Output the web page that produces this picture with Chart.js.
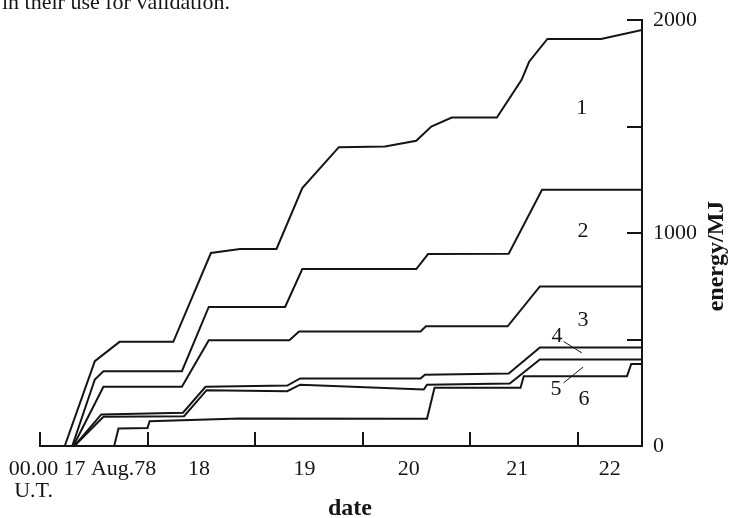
<!DOCTYPE html>
<html>
<head>
<meta charset="utf-8">
<script src="https://cdn.jsdelivr.net/npm/chart.js@4.4.1/dist/chart.umd.min.js"></script>
<style>
  html, body { margin: 0; padding: 0; background: #fff; }
  .chart-container { position: relative; width: 730px; height: 518px; }
</style>
</head>
<body>
<div class="chart-container"><canvas id="chart"></canvas></div>
<script>
// x = days after 00.00 UT 17 Aug 1978, y = cumulative energy in MJ
const days1 = [0.23, 0.51, 0.74, 1.24, 1.59, 1.86, 2.20, 2.44, 2.78, 3.21, 3.50, 3.64, 3.83, 4.25, 4.48, 4.55, 4.72, 5.22, 5.60]
const energy1 = [0, 398, 489, 489, 906, 925, 925, 1211, 1403, 1406, 1433, 1500, 1542, 1542, 1719, 1804, 1911, 1911, 1953]

const days2 = [0.30, 0.51, 0.59, 1.32, 1.57, 2.28, 2.44, 3.50, 3.61, 4.36, 4.67, 5.60]
const energy2 = [0, 312, 351, 351, 653, 653, 831, 831, 901, 903, 1203, 1203]

const days3 = [0.31, 0.59, 1.32, 1.57, 2.32, 2.41, 3.54, 3.59, 4.35, 4.65, 5.60]
const energy3 = [0, 278, 278, 496, 496, 538, 538, 562, 562, 749, 749]

const days4 = [0.32, 0.57, 1.33, 1.54, 2.30, 2.42, 3.54, 3.58, 4.36, 4.65, 5.60]
const energy4 = [0, 148, 156, 278, 284, 317, 317, 335, 340, 463, 463]

const days5 = [0.32, 0.59, 1.34, 1.55, 2.30, 2.42, 3.57, 3.60, 4.37, 4.65, 5.60]
const energy5 = [0, 137, 140, 262, 257, 288, 265, 288, 293, 406, 406]

const days6 = [0.69, 0.73, 1.00, 1.02, 1.86, 3.60, 3.67, 4.47, 4.50, 5.46, 5.50, 5.60]
const energy6 = [0, 82, 85, 116, 129, 128, 273, 273, 327, 327, 385, 385]

// axis ticks and labels
const xTickDays = [0, 1, 2, 3, 4, 5]
const xLabelDays = [-0.06, 0.65, 1.48, 2.46, 3.43, 4.44, 5.30]
const xTickLabels = [['00.00', 'U.T.'], '17 Aug.78', '18', '19', '20', '21', '22']
const yTickEnergy = [500, 1000, 1500, 2000]
const yLabelEnergy = [0, 1000, 2000]

// curve numbers, placed in data units
const seriesTags = [
  { text: '1', d: 5.04, v: 1586 },
  { text: '2', d: 5.05, v: 1007 },
  { text: '3', d: 5.05, v: 590 },
  { text: '4', d: 4.81, v: 515, lead: [4.87, 491, 5.04, 437] },
  { text: '5', d: 4.80, v: 265, lead: [4.87, 296, 5.05, 370] },
  { text: '6', d: 5.06, v: 218 },
]

const INK = '#151515'
const FONT = '"Liberation Serif", "DejaVu Serif", serif'

const toPoints = (xs, ys) => xs.map((d, i) => ({ x: d, y: ys[i] }))
const series = [
  [days1, energy1], [days2, energy2], [days3, energy3],
  [days4, energy4], [days5, energy5], [days6, energy6],
]

const decorations = {
  id: 'decorations',
  afterDraw(chart) {
    const { ctx } = chart
    const { x, y } = chart.scales
    ctx.save()

    // tick marks point into the plot
    ctx.strokeStyle = INK
    ctx.lineWidth = 2
    ctx.beginPath()
    xTickDays.forEach((d) => {
      const px = Math.round(x.getPixelForValue(d))
      ctx.moveTo(px, y.bottom)
      ctx.lineTo(px, y.bottom - 14)
    })
    yTickEnergy.forEach((v) => {
      const py = Math.round(y.getPixelForValue(v))
      ctx.moveTo(x.right, py)
      ctx.lineTo(x.right - 15, py)
    })
    ctx.stroke()

    // curve numbers
    ctx.fillStyle = INK
    ctx.font = '22px ' + FONT
    ctx.textAlign = 'center'
    ctx.textBaseline = 'middle'
    ctx.lineWidth = 1
    seriesTags.forEach((t) => {
      ctx.fillText(t.text, x.getPixelForValue(t.d), y.getPixelForValue(t.v))
      if (t.lead) {
        ctx.beginPath()
        ctx.moveTo(x.getPixelForValue(t.lead[0]), y.getPixelForValue(t.lead[1]))
        ctx.lineTo(x.getPixelForValue(t.lead[2]), y.getPixelForValue(t.lead[3]))
        ctx.stroke()
      }
    })

    // axis titles
    ctx.font = 'bold 24px ' + FONT
    ctx.fillText('date', 350, 509)
    ctx.save()
    ctx.translate(717, 256)
    ctx.rotate(-Math.PI / 2)
    ctx.fillText('energy/MJ', 0, 0)
    ctx.restore()

    // last line of the page text above the figure
    ctx.font = '22px ' + FONT
    ctx.textAlign = 'left'
    ctx.textBaseline = 'alphabetic'
    ctx.fillText('in their use for validation.', 2, 9)

    ctx.restore()
  },
}

new Chart(document.getElementById('chart'), {
  type: 'line',
  data: {
    datasets: series.map(([xs, ys], i) => ({
      label: String(i + 1),
      data: toPoints(xs, ys),
      borderColor: INK,
      backgroundColor: INK,
      borderWidth: 2,
      pointRadius: 0,
      tension: 0,
      fill: false,
    })),
  },
  options: {
    responsive: true,
    maintainAspectRatio: false,
    animation: false,
    layout: { padding: { left: 40, top: 20, right: 0, bottom: 0 } },
    plugins: { legend: { display: false }, tooltip: { enabled: false } },
    scales: {
      x: {
        type: 'linear',
        min: 0,
        max: 5.6,
        grid: { display: false },
        border: { display: true, color: INK, width: 2 },
        afterBuildTicks: (s) => { s.ticks = xLabelDays.map((v) => ({ value: v })) },
        afterFit: (s) => { s.height = 72 },
        ticks: {
          autoSkip: false,
          maxRotation: 0,
          padding: 4,
          color: INK,
          font: { family: FONT, size: 22, lineHeight: 1 },
          callback: (v, i) => xTickLabels[i],
        },
      },
      y: {
        position: 'right',
        min: 0,
        max: 2000,
        grid: { display: false },
        border: { display: true, color: INK, width: 2 },
        afterBuildTicks: (s) => { s.ticks = yLabelEnergy.map((v) => ({ value: v })) },
        afterFit: (s) => { s.width = 88 },
        ticks: {
          padding: 3,
          color: INK,
          font: { family: FONT, size: 22 },
          callback: (v) => String(v),
        },
      },
    },
  },
  plugins: [decorations],
})
</script>
</body>
</html>
